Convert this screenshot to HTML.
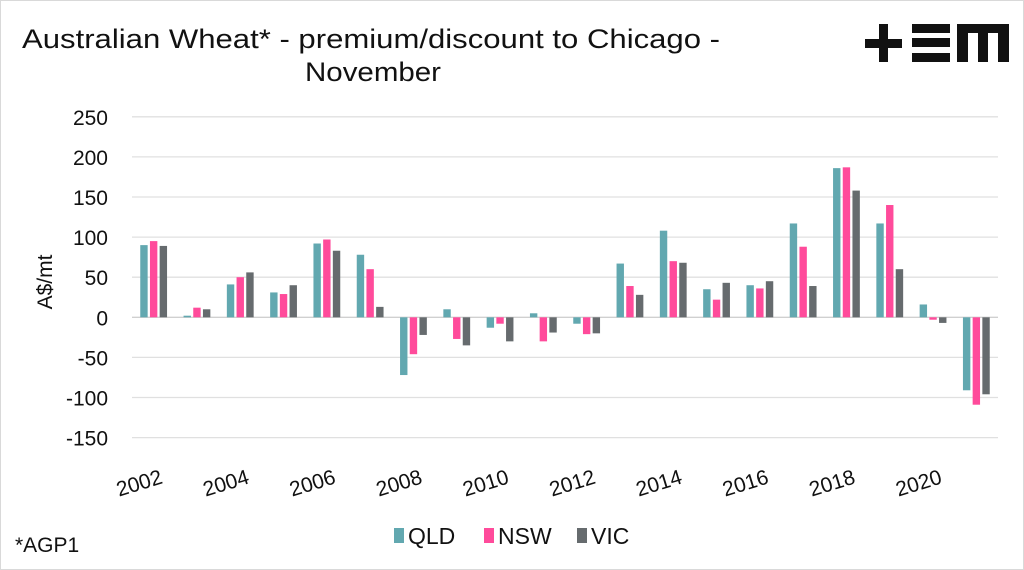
<!DOCTYPE html>
<html><head><meta charset="utf-8"><style>
body{margin:0;background:#fff;}
svg{display:block;font-family:"Liberation Sans",sans-serif;}
</style></head><body>
<svg id="c" width="1024" height="570" viewBox="0 0 1024 570">
<rect x="0.5" y="0.5" width="1023" height="569" fill="#fff" stroke="#d9d9d9"/>
<text x="22" y="48" font-size="27" textLength="698" lengthAdjust="spacingAndGlyphs" fill="#111">Australian Wheat* - premium/discount to Chicago -</text>
<text x="305" y="81" font-size="27" textLength="136" lengthAdjust="spacingAndGlyphs" fill="#111">November</text>
<g fill="#111">
<rect x="865" y="39" width="37" height="9"/><rect x="879" y="24" width="9" height="38"/>
<rect x="912" y="24" width="38" height="9"/><rect x="912" y="38" width="38" height="9"/><rect x="912" y="53" width="38" height="9"/>
<rect x="957" y="24" width="52" height="9"/><rect x="957" y="24" width="11" height="38"/><rect x="978" y="24" width="10" height="38"/><rect x="998" y="24" width="11" height="38"/>
</g>
<text transform="translate(52,282) rotate(-90)" text-anchor="middle" font-size="21" fill="#111">A$/mt</text>
<g id="grid"></g><g id="bars"></g><g id="xl"></g>
<text x="15" y="552" font-size="21" fill="#111">*AGP1</text>
<g id="legend"></g>
</svg>
<script>
const categories=["2002","2003","2004","2005","2006","2007","2008","2009","2010","2011","2012","2013","2014","2015","2016","2017","2018","2019","2020","2021"];
const qld=[90,2,41,31,92,78,-72,10,-13,5,-8,67,108,35,40,117,186,117,16,-91];
const nsw=[95,12,50,29,97,60,-46,-27,-8,-30,-21,39,70,22,36,88,187,140,-3,-109];
const vic=[89,10,56,40,83,13,-22,-35,-30,-19,-20,28,68,43,45,39,158,60,-7,-96];
const yTicks=[250,200,150,100,50,0,-50,-100,-150];
const seriesNames=["QLD","NSW","VIC"];
const colors=["#62a8b0","#ff4b9b","#666b6e"];
const NS="http://www.w3.org/2000/svg";
const X0=132,X1=998,Y0=317.3,PPU=40.1/50;
const y=v=>Y0-v*PPU;
const step=(X1-X0)/categories.length;
const cx=i=>X0+step*(i+0.5);
function mk(t,a,p){const e=document.createElementNS(NS,t);for(const k in a)e.setAttribute(k,a[k]);p.appendChild(e);return e;}
const grid=document.getElementById('grid');
yTicks.forEach(t=>{
 const l=mk('line',{x1:X0,x2:X1,y1:y(t),y2:y(t),stroke:t===0?'#d0d0d0':'#e0e0e0','stroke-width':1.3},grid);
 
 
 const tx=mk('text',{x:108,y:y(t)+8,'text-anchor':'end','font-size':21,fill:'#111'},grid);
 tx.textContent=t;
 
 
});
const bars=document.getElementById('bars');
const series=[qld,nsw,vic];
const bw=7.4,bs=9.7;
series.forEach((s,si)=>{s.forEach((v,i)=>{
 const x=cx(i)+(si-1)*bs-bw/2;
 const r=mk('rect',{x:x,y:Math.min(y(v),Y0),width:bw,height:Math.abs(y(v)-Y0),fill:colors[si]},bars);
 
 
});});
const xl=document.getElementById('xl');
categories.forEach((c,i)=>{if(i%2)return;
 const t=mk('text',{transform:`translate(${cx(i)+10},${483}) rotate(-17)`,'text-anchor':'end','font-size':21,fill:'#111'},xl);
 t.textContent=c;
 
 
});
const lg=document.getElementById('legend');
const lx=[394,484,577];
seriesNames.forEach((n,i)=>{
 const g=mk('g',{},lg);
 
 
 mk('rect',{x:lx[i],y:528,width:10,height:15,fill:colors[i]},g);
 const t=mk('text',{x:lx[i]+14,y:544,'font-size':23,fill:'#111'},g);
 t.textContent=n;
});
</script>
</body></html>
